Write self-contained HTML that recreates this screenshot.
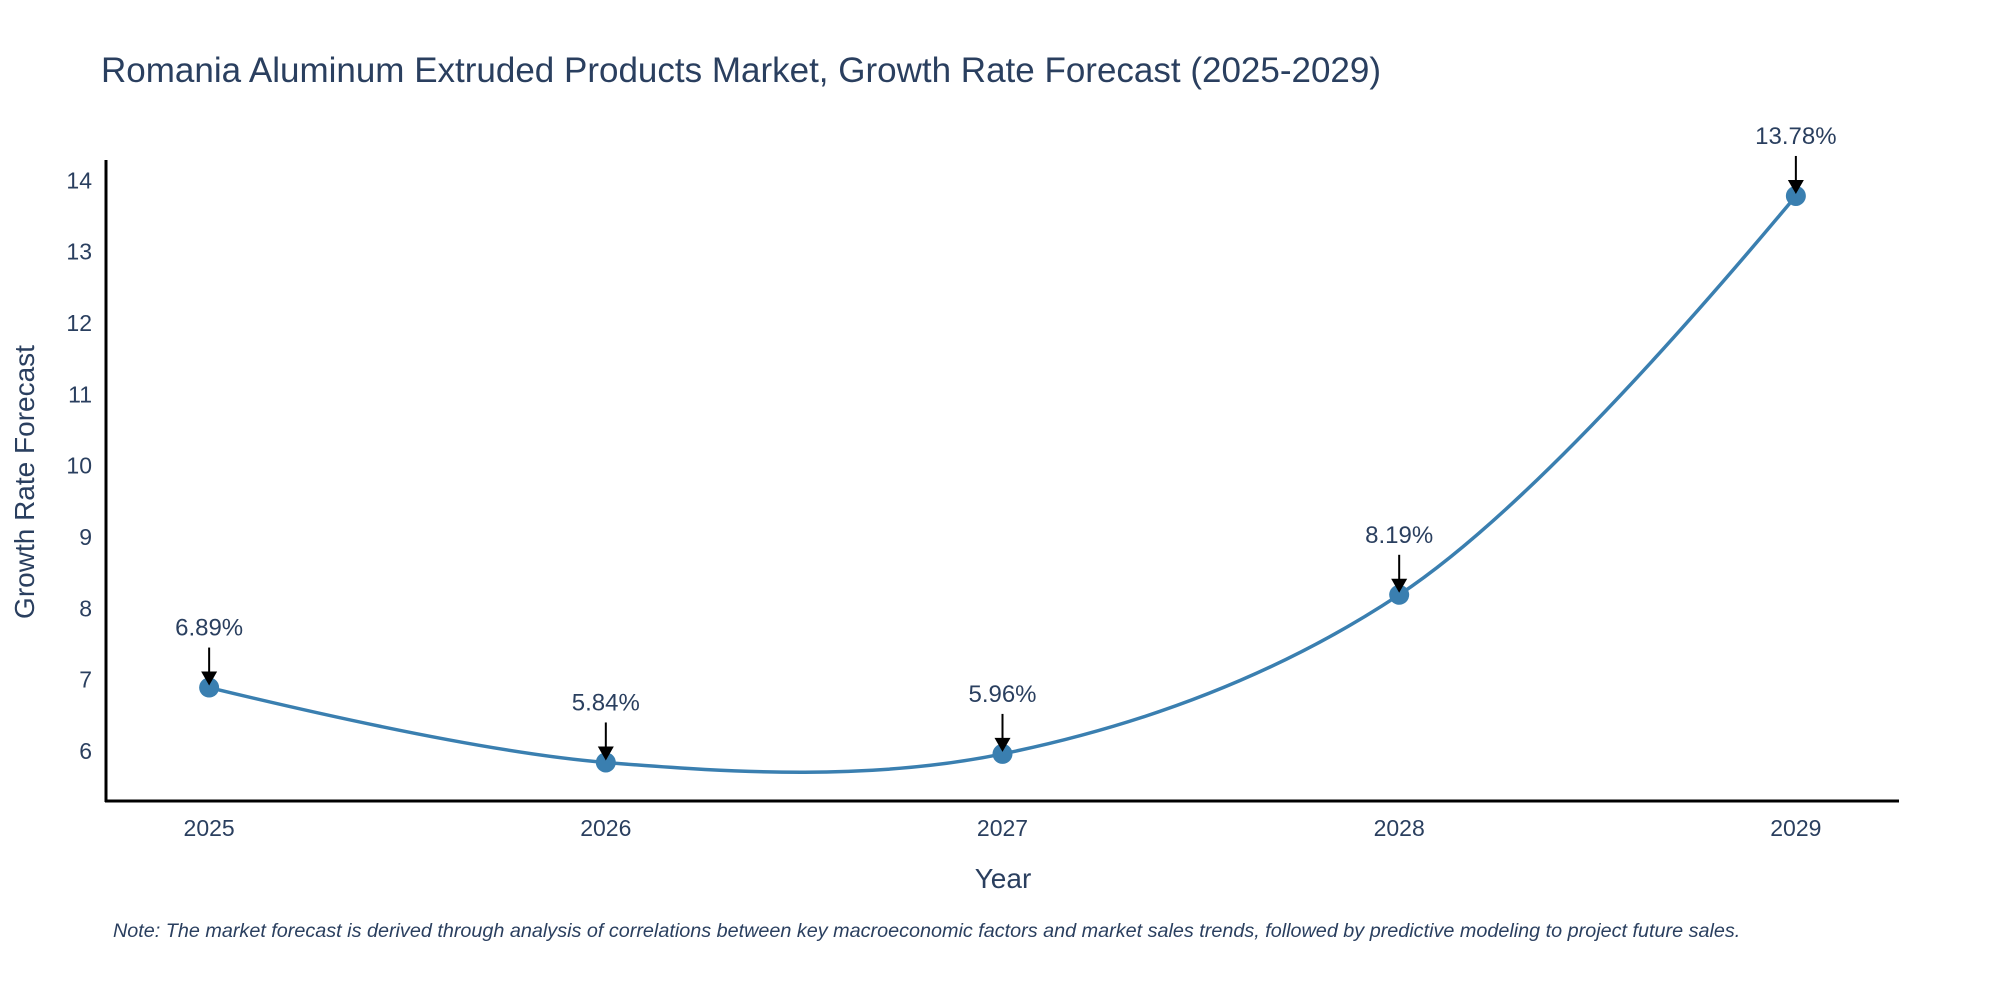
<!DOCTYPE html>
<html><head><meta charset="utf-8"><style>
body{margin:0;background:#fff;}
svg text{font-family:"Liberation Sans",sans-serif;}
</style></head><body>
<svg id="chart" width="2000" height="1000" viewBox="0 0 2000 1000" xmlns="http://www.w3.org/2000/svg">
<rect width="2000" height="1000" fill="#fff"/>
<text x="101" y="82" font-size="35" fill="#2a3f5f">Romania Aluminum Extruded Products Market, Growth Rate Forecast (2025-2029)</text>
<g id="yticks"></g>
<g id="xticks"></g>
<g id="series"></g>
<g id="annos"></g>
<line x1="106" y1="160" x2="106" y2="802" stroke="#000" stroke-width="3"/>
<line x1="105" y1="801" x2="1899" y2="801" stroke="#000" stroke-width="3"/>
<text x="1003" y="888" font-size="28" fill="#2a3f5f" text-anchor="middle">Year</text>
<text x="0" y="0" font-size="28" fill="#2a3f5f" text-anchor="middle" transform="translate(34,482) rotate(-90)">Growth Rate Forecast</text>
<text x="113" y="937" font-size="19.8" font-style="italic" fill="#2a3f5f">Note: The market forecast is derived through analysis of correlations between key macroeconomic factors and market sales trends, followed by predictive modeling to project future sales.</text>
</svg>
<script>
const years = [2025, 2026, 2027, 2028, 2029];
const growth = [6.89, 5.84, 5.96, 8.19, 13.78];
const labels = ["6.89%", "5.84%", "5.96%", "8.19%", "13.78%"];
const yTicks = [6, 7, 8, 9, 10, 11, 12, 13, 14];

const NS = "http://www.w3.org/2000/svg";
const xMin = 2024.74, xMax = 2029.26, xL = 106, xR = 1899;
const yMin = 5.3, yMax = 14.27, yB = 801, yT = 161;
function xs(v){return xL + (v - xMin) / (xMax - xMin) * (xR - xL);}
function ys(v){return yB - (v - yMin) / (yMax - yMin) * (yB - yT);}
function mk(tag, attrs, parent){const e=document.createElementNS(NS,tag);for(const k in attrs)e.setAttribute(k,attrs[k]);parent.appendChild(e);return e;}

const yg = document.getElementById('yticks');
yTicks.forEach(t=>{
  const e = mk('text',{x:92,y:ys(t)+8,'font-size':23,fill:'#2a3f5f','text-anchor':'end'},yg);
  
  
  e.textContent = t;
});
const xg = document.getElementById('xticks');
years.forEach(t=>{
  const e = mk('text',{x:xs(t),y:836,'font-size':23,fill:'#2a3f5f','text-anchor':'middle'},xg);
  
  
  e.textContent = t;
});

const pts = years.map((y,i)=>[xs(y), ys(growth[i])]);
function tangent(p,c,n,s){
  const d1x=p[0]-c[0],d1y=p[1]-c[1],d2x=n[0]-c[0],d2y=n[1]-c[1];
  const d1a=Math.pow(d1x*d1x+d1y*d1y,0.25),d2a=Math.pow(d2x*d2x+d2y*d2y,0.25);
  const nx=(d2a*d2a*d1x-d1a*d1a*d2x)*s, ny=(d2a*d2a*d1y-d1a*d1a*d2y)*s;
  const den1=3*d2a*(d1a+d2a), den2=3*d1a*(d1a+d2a);
  return [[c[0]+nx/den1,c[1]+ny/den1],[c[0]-nx/den2,c[1]-ny/den2]];
}
const tg=[];
for(let i=1;i<pts.length-1;i++) tg.push(tangent(pts[i-1],pts[i],pts[i+1],1));
let d = 'M'+pts[0]+'Q'+tg[0][0]+' '+pts[1];
for(let i=2;i<pts.length-1;i++) d += 'C'+tg[i-2][1]+' '+tg[i-1][0]+' '+pts[i];
d += 'Q'+tg[pts.length-3][1]+' '+pts[pts.length-1];
const sg = document.getElementById('series');
const line = mk('path',{d:d,fill:'none',stroke:'#3a7fb0','stroke-width':3.5},sg);


pts.forEach(p=>{
  const c = mk('circle',{cx:p[0],cy:p[1],r:10,fill:'#3a7fb0'},sg);
  
  
});

const ag = document.getElementById('annos');
pts.forEach((p,i)=>{
  const ar = mk('line',{x1:p[0],y1:p[1]-40,x2:p[0],y2:p[1]-14,stroke:'#000','stroke-width':2},ag);
  
  
  const hd = mk('polygon',{points:`${p[0]-8},${p[1]-16} ${p[0]+8},${p[1]-16} ${p[0]},${p[1]-2}`,fill:'#000'},ag);
  
  
  const t = mk('text',{x:p[0],y:p[1]-52,'font-size':24,fill:'#2a3f5f','text-anchor':'middle'},ag);
  
  
  t.textContent = labels[i];
});
</script>
</body></html>
